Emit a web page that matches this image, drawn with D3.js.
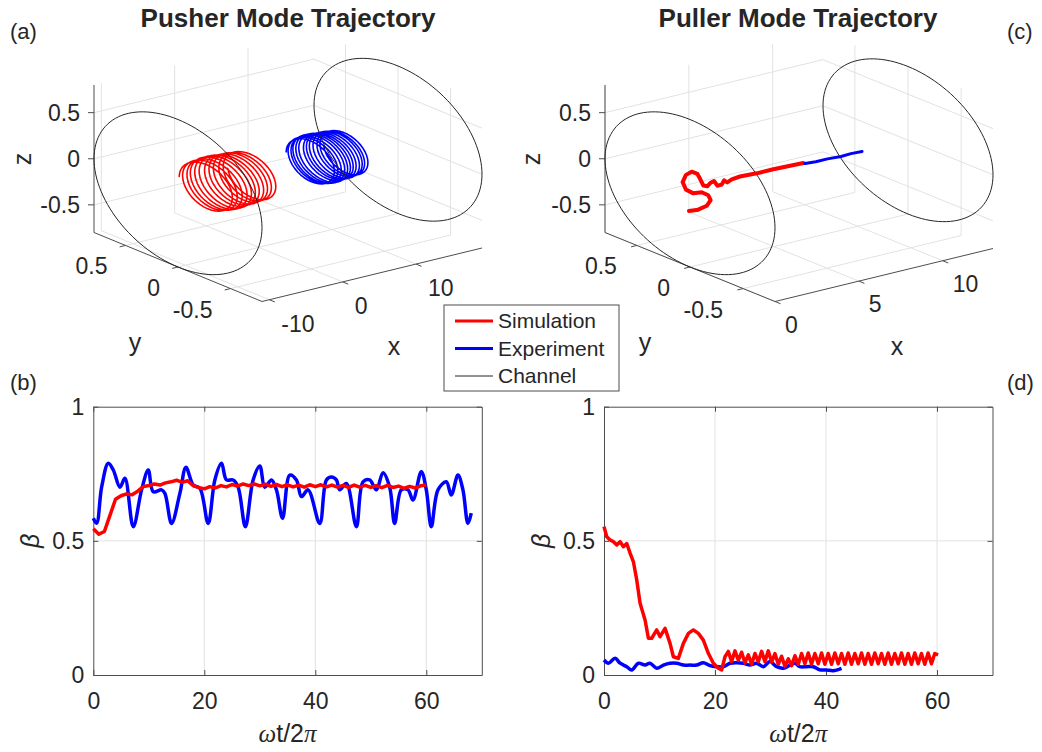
<!DOCTYPE html>
<html>
<head>
<meta charset="utf-8">
<script src="https://cdn.jsdelivr.net/npm/d3@7"></script>
<style>
body { margin: 0; background: #fff; }
svg text { font-family: "Liberation Sans", Arial, Helvetica, sans-serif; fill: #262626; }
</style>
</head>
<body>
<svg id="fig" width="1042" height="752"></svg>
<script>
// ---- 3D panels: axes ----
const pushXDom = [-11, 19]
const pullXDom = [0, 13]
const pushXTicks = [-10, 0, 10]
const pullXTicks = [0, 5, 10]
const yzTicks = [-0.5, 0, 0.5]
const yzLim = 0.8
const channelR = 0.8

// pusher helices: x where each turn starts, and radius of that turn
const pushSimTurnX = [-7.4, -6.8, -6.2, -5.6, -5.0, -4.4, -3.8, -3.2, -2.6, -2.0, -1.4, -0.8]
const pushSimTurnR = [0.24, 0.25, 0.25, 0.26, 0.26, 0.26, 0.25, 0.25, 0.25, 0.24, 0.24, 0.24]
const pushExpTurnX = [6.9, 7.3, 7.7, 8.1, 8.5, 8.9, 9.4, 9.8, 10.2, 10.7, 11.1, 11.5, 12.0]
const pushExpTurnR = [0.22, 0.23, 0.23, 0.24, 0.24, 0.24, 0.23, 0.23, 0.23, 0.23, 0.22, 0.22, 0.22]

// puller trajectory (y = 0 plane)
const pullSimX = [-0.06, 0.49, 1.0, 1.23, 1.09, 0.70, 0.20, -0.24, -0.44, -0.24, 0.10, 0.44, 0.60, 0.79, 1.03, 1.23, 1.43, 1.63, 1.89, 2.03, 2.22, 2.49, 2.98, 3.98, 4.97, 6.76]
const pullSimZ = [-0.19, -0.20, -0.18, -0.13, -0.07, -0.02, -0.01, 0.05, 0.14, 0.21, 0.23, 0.19, 0.13, 0.05, 0.03, 0.06, 0.07, 0.01, 0.01, 0.05, 0.02, 0.04, 0.05, 0.04, 0.04, 0.03]
const pullExpX = [6.86, 7.5, 8.2, 9.0, 9.6, 10.26]
const pullExpZ = [0.02, 0.01, 0.01, 0.0, 0.005, 0.0]

// ---- 2D panels: beta vs wt/2pi ----
const tTicks = [0, 20, 40, 60]
const bTicks = [0, 0.5, 1]

const pushSimT = d3.range(0, 61)
const pushSimB = [0.545, 0.525, 0.535, 0.595, 0.655, 0.668, 0.675, 0.672, 0.685, 0.702,
  0.706, 0.712, 0.708, 0.716, 0.72, 0.726, 0.718, 0.724, 0.706, 0.698,
  0.694, 0.702, 0.697, 0.706, 0.701, 0.71, 0.704, 0.712, 0.706, 0.712,
  0.705, 0.711, 0.703, 0.71, 0.702, 0.709, 0.701, 0.708, 0.70, 0.709,
  0.702, 0.709, 0.701, 0.708, 0.70, 0.707, 0.699, 0.708, 0.70, 0.707,
  0.699, 0.706, 0.698, 0.707, 0.699, 0.704, 0.696, 0.703, 0.697, 0.705, 0.708]

const pushExpT = [0, 0.6, 1.5, 2.7, 3.6, 4.8, 5.7, 7.2, 8.7, 9.9, 10.8, 12.3, 12.9, 14.1, 15.6, 16.7, 18.0, 19.2, 20.7,
  21.9, 23.1, 24.0, 25.2, 26.1, 27.4, 28.8, 30.0, 30.9, 32.1, 33.0, 34.1, 35.4, 36.6, 37.5, 38.7, 40.8,
  42.0, 42.9, 43.8, 44.4, 45.6, 47.4, 48.6, 49.8, 51.0, 52.2, 53.4, 54.3, 55.5, 56.7, 57.6, 59.1, 60.0,
  60.9, 62.1, 63.6, 64.5, 65.7, 66.6, 67.5, 68.1]
const pushExpB = [0.584, 0.566, 0.70, 0.789, 0.764, 0.70, 0.733, 0.553, 0.69, 0.764, 0.683, 0.69, 0.677, 0.565, 0.677, 0.774, 0.708, 0.696, 0.565,
  0.727, 0.789, 0.727, 0.727, 0.70, 0.553, 0.727, 0.779, 0.70, 0.727, 0.69, 0.584, 0.745, 0.727, 0.665, 0.69, 0.565,
  0.727, 0.738, 0.727, 0.69, 0.714, 0.553, 0.72, 0.727, 0.69, 0.754, 0.70, 0.565, 0.69, 0.69, 0.652, 0.758, 0.69,
  0.553, 0.69, 0.72, 0.671, 0.745, 0.69, 0.565, 0.603]

const pullSimT = [0, 0.5, 1.1, 1.7, 2.3, 2.9, 3.5, 4.1, 4.7, 5.3, 5.9, 6.5, 7.4, 8.0, 8.6, 9.5, 10.1, 11.0, 11.9, 12.5,
  13.4, 14.3, 15.2, 16.1, 17.0, 17.9, 18.8, 19.7, 20.6, 21.2, 21.8,
  22.4, 23.0, 23.6, 24.2, 24.8, 25.4, 26.0, 26.6, 27.2, 27.8, 28.4, 29.0, 29.6, 30.2, 30.8, 31.4,
  32.0, 32.6, 33.2, 33.8, 34.4, 35.0, 35.6, 36.2, 36.8, 37.4, 38.0, 38.6, 39.2, 39.8, 40.4, 41.0,
  41.6, 42.2, 42.8, 43.4, 44.0, 44.6, 45.2, 45.8, 46.4, 47.0, 47.6, 48.2, 48.8, 49.4, 50.0, 50.6,
  51.2, 51.8, 52.4, 53.0, 53.6, 54.2, 54.8, 55.4, 56.0, 56.6, 57.2, 57.8, 58.4, 59.0, 59.6, 60.2]
const pullSimB = [0.553, 0.515, 0.503, 0.497, 0.485, 0.497, 0.478, 0.49, 0.454, 0.422, 0.354, 0.267, 0.205, 0.137, 0.137, 0.168, 0.143, 0.174, 0.118, 0.068,
  0.062, 0.118, 0.155, 0.168, 0.155, 0.13, 0.081, 0.044, 0.025, 0.019, 0.068,
  0.088, 0.05, 0.09, 0.055, 0.085, 0.045, 0.075, 0.04, 0.08, 0.05, 0.088, 0.05, 0.09, 0.048, 0.08, 0.04,
  0.07, 0.032, 0.06, 0.035, 0.072, 0.04, 0.08, 0.042, 0.082, 0.04, 0.08, 0.042, 0.082, 0.04, 0.08, 0.04,
  0.082, 0.042, 0.08, 0.04, 0.082, 0.04, 0.08, 0.042, 0.082, 0.04, 0.08, 0.04, 0.082, 0.042, 0.08, 0.04,
  0.082, 0.04, 0.08, 0.042, 0.082, 0.04, 0.08, 0.04, 0.082, 0.042, 0.08, 0.04, 0.082, 0.042, 0.08, 0.075]

const pullExpT = [0, 0.8, 2.0, 2.9, 4.1, 5.0, 6.2, 7.4, 8.3, 9.5, 10.7, 11.9, 13.1, 14.3, 15.5, 16.7, 17.9, 19.1, 20.3,
  21.5, 22.7, 23.9, 25.1, 26.3, 27.5, 28.7, 29.9, 31.1, 32.3, 33.5, 34.4, 35.3, 36.5, 37.7, 38.9, 40.1, 41.3, 42.8]
const pullExpB = [0.056, 0.044, 0.062, 0.044, 0.031, 0.019, 0.044, 0.037, 0.044, 0.025, 0.037, 0.044, 0.044, 0.037, 0.037, 0.037, 0.046, 0.035, 0.031,
  0.031, 0.044, 0.046, 0.044, 0.037, 0.044, 0.031, 0.05, 0.031, 0.025, 0.037, 0.044, 0.031, 0.031, 0.031, 0.019, 0.019, 0.016, 0.025]

const legendNames = ['Simulation', 'Experiment', 'Channel']
const legendColors = ['#ff0000', '#0000ff', '#262626']

const svg = d3.select('#fig')
const serif = '"Liberation Serif", "DejaVu Serif", serif'

// helix points from turn positions
const helix = (turnX, turnR) => {
    const pts = []
    const steps = 40
    for (let i = 0; i < turnX.length - 1; i++) {
        for (let k = 0; k < steps; k++) {
            const f = k / steps, a = 2 * Math.PI * f
            const r = turnR[i] + (turnR[i + 1] - turnR[i]) * f
            pts.push([turnX[i] + (turnX[i + 1] - turnX[i]) * f, r * Math.cos(a), r * Math.sin(a)])
        }
    }
    return pts
}

const draw3d = (cfg) => {
    const g = svg.append('g')
    const fx = d3.scaleLinear().domain(cfg.xDom).range([0, 1])
    const fy = d3.scaleLinear().domain([yzLim, -yzLim]).range([0, 1])
    const fz = d3.scaleLinear().domain([-yzLim, yzLim]).range([0, 1])
    const P = (x, y, z) => [
        cfg.o[0] + fx(x) * cfg.ax[0] + fy(y) * cfg.ay[0] + fz(z) * cfg.az[0],
        cfg.o[1] + fx(x) * cfg.ax[1] + fy(y) * cfg.ay[1] + fz(z) * cfg.az[1]
    ]
    const [x0, x1] = cfg.xDom
    const L = -yzLim, H = yzLim
    const line = d3.line()
    const seg = (a, b) => line([P(...a), P(...b)])

    // grid on back planes
    const segs = []
    cfg.xTicks.forEach(x => {
        segs.push([[x, L, L], [x, H, L]])
        segs.push([[x, H, L], [x, H, H]])
    })
    yzTicks.forEach(v => {
        segs.push([[x0, v, L], [x1, v, L]])
        segs.push([[x1, v, L], [x1, v, H]])
        segs.push([[x0, H, v], [x1, H, v]])
        segs.push([[x1, L, v], [x1, H, v]])
    })
    g.append('g').selectAll('path').data(segs).join('path')
        .attr('d', d => seg(d[0], d[1]))
        .attr('fill', 'none').attr('stroke', '#e2e2e2').attr('stroke-width', 1)

    // axis lines
    const ax = g.append('g').attr('stroke', '#4d4d4d').attr('fill', 'none').attr('stroke-width', 1)
    ax.append('path').attr('d', seg([x0, H, L], [x0, H, H]))
    ax.append('path').attr('d', seg([x0, H, L], [x0, L, L]))
    ax.append('path').attr('d', seg([x0, L, L], [x1, L, L]))

    // ticks (outward)
    const nx = [-cfg.ax[0], -cfg.ax[1]], lx = Math.hypot(...nx)
    const ny = [cfg.ay[0], cfg.ay[1]], ly = Math.hypot(...ny)
    const tk = 6
    yzTicks.forEach(z => {
        const p = P(x0, H, z)
        ax.append('path').attr('d', line([p, [p[0] - tk, p[1]]]))
    })
    yzTicks.forEach(y => {
        const p = P(x0, y, L)
        ax.append('path').attr('d', line([p, [p[0] + nx[0] / lx * tk, p[1] + nx[1] / lx * tk]]))
    })
    cfg.xTicks.forEach(x => {
        const p = P(x, L, L)
        ax.append('path').attr('d', line([p, [p[0] + ny[0] / ly * tk, p[1] + ny[1] / ly * tk]]))
    })

    // tick labels
    const lab = g.append('g').attr('font-size', 23)
    yzTicks.forEach(z => {
        const p = P(x0, H, z)
        lab.append('text').attr('x', p[0] - 14).attr('y', p[1]).attr('dy', '0.35em')
            .attr('text-anchor', 'end').text(z)
    })
    yzTicks.forEach(y => {
        const p = P(x0, y, L)
        lab.append('text').attr('x', p[0] - cfg.yLabDx).attr('y', p[1] + 21).attr('dy', '0.35em')
            .attr('text-anchor', 'end').text(y)
    })
    cfg.xTicks.forEach(x => {
        const p = P(x, L, L)
        lab.append('text').attr('x', p[0] + cfg.xLabDx).attr('y', p[1] + cfg.xLabDy).attr('dy', '0.35em')
            .attr('text-anchor', 'start').text(x)
    })
    lab.append('text').attr('font-size', 25).attr('text-anchor', 'middle')
        .attr('transform', `translate(${cfg.zLab[0]},${cfg.zLab[1]}) rotate(-90)`).attr('dy', '0.35em').text('z')
    lab.append('text').attr('font-size', 25).attr('text-anchor', 'middle')
        .attr('x', cfg.yLab[0]).attr('y', cfg.yLab[1]).attr('dy', '0.35em').text('y')
    lab.append('text').attr('font-size', 25).attr('text-anchor', 'middle')
        .attr('x', cfg.xLab[0]).attr('y', cfg.xLab[1]).attr('dy', '0.35em').text('x')

    // channel rings at both ends
    const ringAngles = d3.range(0, 361, 3).map(a => a * Math.PI / 180)
    const drawRings = () => [x0, x1].forEach(x => {
        g.append('path')
            .attr('d', line(ringAngles.map(a => P(x, channelR * Math.cos(a), channelR * Math.sin(a)))))
            .attr('fill', 'none').attr('stroke', '#262626').attr('stroke-width', 1)
    })

    if (!cfg.ringsOnTop) drawRings()
    cfg.tracks.forEach(t => {
        g.append('path')
            .attr('d', line(t.pts.map(p => P(...p))))
            .attr('fill', 'none').attr('stroke', t.color).attr('stroke-width', t.w)
            .attr('stroke-linejoin', 'round').attr('stroke-linecap', 'round')
    })
    if (cfg.ringsOnTop) drawRings()

    svg.append('text').attr('x', cfg.title[0]).attr('y', 27).attr('text-anchor', 'middle')
        .attr('font-size', 26).attr('font-weight', 'bold').attr('fill', '#000').text(cfg.titleText)
}

draw3d({
    xDom: pushXDom, xTicks: pushXTicks,
    o: [94, 232.5], ax: [220, -53.5], ay: [168, 69], az: [0, -147.5],
    yLabDx: 18, xLabDx: 12, xLabDy: 24,
    zLab: [22, 159], yLab: [135, 342], xLab: [394, 346],
    title: [288, 0], titleText: 'Pusher Mode Trajectory', ringsOnTop: true,
    tracks: [
        { pts: helix(pushSimTurnX, pushSimTurnR), color: '#ff0000', w: 1.6 },
        { pts: helix(pushExpTurnX, pushExpTurnR), color: '#0000ff', w: 1.6 }
    ]
})

draw3d({
    xDom: pullXDom, xTicks: pullXTicks,
    o: [605, 232.5], ax: [218, -53], ay: [170, 69], az: [0, -147.5],
    yLabDx: 20, xLabDx: 10, xLabDy: 23,
    zLab: [531, 159], yLab: [645, 342], xLab: [897, 346],
    title: [798, 0], titleText: 'Puller Mode Trajectory', ringsOnTop: false,
    tracks: [
        { pts: pullSimX.map((x, i) => [x, 0, pullSimZ[i]]), color: '#ff0000', w: 4 },
        { pts: pullExpX.map((x, i) => [x, 0, pullExpZ[i]]), color: '#0000ff', w: 3 }
    ]
})

// ---- 2D panels ----
const draw2d = (left, sim, exp) => {
    const x = d3.scaleLinear().domain([0, 70]).range([left, left + 388.5])
    const y = d3.scaleLinear().domain([0, 1]).range([675, 406.7])
    const g = svg.append('g')

    g.append('g').selectAll('line').data(tTicks.filter(t => t > 0)).join('line')
        .attr('x1', d => x(d)).attr('x2', d => x(d)).attr('y1', y(0)).attr('y2', y(1))
        .attr('stroke', '#e2e2e2')
    g.append('g').selectAll('line').data([0.5]).join('line')
        .attr('x1', x(0)).attr('x2', x(70)).attr('y1', d => y(d)).attr('y2', d => y(d))
        .attr('stroke', '#e2e2e2')

    const styleAxis = s => {
        s.selectAll('path,line').attr('stroke', '#4d4d4d')
        s.selectAll('text').attr('fill', '#262626').attr('font-size', 23)
            .attr('font-family', '"Liberation Sans", Arial, sans-serif')
    }
    const fmt = d => String(d)
    g.append('g').attr('transform', `translate(0,${y(0)})`)
        .call(d3.axisBottom(x).tickValues(tTicks).tickFormat(fmt).tickSizeInner(-5).tickSizeOuter(0).tickPadding(18))
        .call(styleAxis)
    g.append('g').attr('transform', `translate(0,${y(1)})`)
        .call(d3.axisTop(x).tickValues(tTicks).tickSizeInner(-5).tickSizeOuter(0).tickFormat(''))
        .call(styleAxis)
    g.append('g').attr('transform', `translate(${x(0)},0)`)
        .call(d3.axisLeft(y).tickValues(bTicks).tickFormat(fmt).tickSizeInner(-5).tickSizeOuter(0).tickPadding(9))
        .call(styleAxis)
    g.append('g').attr('transform', `translate(${x(70)},0)`)
        .call(d3.axisRight(y).tickValues(bTicks).tickSizeInner(-5).tickSizeOuter(0).tickFormat(''))
        .call(styleAxis)

    const smooth = d3.line().x(d => x(d[0])).y(d => y(d[1])).curve(d3.curveCatmullRom)
    const jagged = d3.line().x(d => x(d[0])).y(d => y(d[1]))
    g.append('path').attr('d', smooth(d3.zip(exp[0], exp[1])))
        .attr('fill', 'none').attr('stroke', '#0000ff').attr('stroke-width', 3.5).attr('stroke-linejoin', 'round')
    g.append('path').attr('d', jagged(d3.zip(sim[0], sim[1])))
        .attr('fill', 'none').attr('stroke', '#ff0000').attr('stroke-width', 3.5).attr('stroke-linejoin', 'round')

    // labels
    const xl = g.append('text').attr('x', x(35)).attr('y', 742).attr('text-anchor', 'middle').attr('font-size', 25)
    xl.append('tspan').attr('font-family', serif).attr('font-style', 'italic').text('ω')
    xl.append('tspan').text('t/2')
    xl.append('tspan').attr('font-family', serif).attr('font-style', 'italic').text('π')
    g.append('text').attr('transform', `translate(${left - 63},${y(0.5)}) rotate(-90)`)
        .attr('text-anchor', 'middle').attr('dy', '0.35em').attr('font-size', 25)
        .attr('font-family', serif).attr('font-style', 'italic').text('β')
}

draw2d(93.3, [pushSimT, pushSimB], [pushExpT, pushExpB])
draw2d(604, [pullSimT, pullSimB], [pullExpT, pullExpB])

// panel letters
const letters = [['(a)', 10, 39], ['(b)', 10, 390], ['(c)', 1007, 39], ['(d)', 1007, 390]]
svg.append('g').selectAll('text').data(letters).join('text')
    .attr('x', d => d[1]).attr('y', d => d[2]).attr('font-size', 22).attr('fill', '#000').text(d => d[0])

// legend
const lg = svg.append('g').attr('transform', 'translate(444,305)')
lg.append('rect').attr('width', 175).attr('height', 86).attr('fill', '#fff').attr('stroke', '#4d4d4d')
legendNames.forEach((n, i) => {
    const yy = 16 + i * 27.5
    lg.append('line').attr('x1', 11).attr('x2', 49).attr('y1', yy).attr('y2', yy)
        .attr('stroke', legendColors[i]).attr('stroke-width', i < 2 ? 3 : 1)
    lg.append('text').attr('x', 54).attr('y', yy).attr('dy', '0.35em').attr('font-size', 21).text(n)
})
</script>
</body>
</html>
